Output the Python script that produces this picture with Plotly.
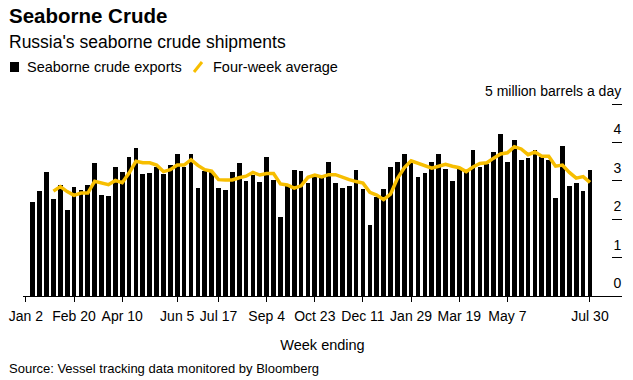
import plotly.graph_objects as go
import pandas as pd

# ---- data ----
week_ending = pd.date_range("2022-01-09", periods=82, freq="7D")

exports = [
    2.46, 2.74, 3.23, 2.52, 2.90, 2.24, 2.83, 2.76, 2.89, 3.46,
    2.63, 2.60, 3.36, 3.22, 3.62, 3.85, 3.19, 3.21, 3.37, 3.17,
    3.41, 3.69, 3.37, 3.71, 2.82, 3.25, 3.23, 2.82, 2.77, 3.24,
    3.47, 3.00, 3.16, 2.98, 3.61, 3.02, 2.05, 2.87, 3.28, 3.26,
    2.95, 3.10, 3.10, 3.50, 2.95, 2.80, 2.87, 3.29, 2.79, 1.85,
    2.59, 2.79, 3.36, 3.48, 3.71, 3.50, 3.11, 3.20, 3.50, 3.70,
    3.30, 3.00, 3.37, 3.27, 3.80, 3.35, 3.45, 3.76, 4.22, 3.50,
    4.07, 3.53, 3.60, 3.79, 3.62, 3.55, 2.55, 3.91, 2.86, 2.94,
    2.74, 3.29,
]

four_week_avg = [
    None, None, None, 2.73, 2.85, 2.72, 2.62, 2.68, 2.68, 2.99,
    2.94, 2.90, 3.01, 2.95, 3.20, 3.51, 3.47, 3.47, 3.41, 3.24,
    3.29, 3.41, 3.41, 3.55, 3.40, 3.29, 3.25, 3.03, 3.02, 3.02,
    3.08, 3.12, 3.22, 3.15, 3.19, 3.19, 2.92, 2.89, 2.81, 2.87,
    3.09, 3.15, 3.10, 3.16, 3.16, 3.09, 3.03, 2.98, 2.94, 2.70,
    2.63, 2.51, 2.65, 3.06, 3.34, 3.52, 3.45, 3.38, 3.33, 3.38,
    3.43, 3.38, 3.34, 3.24, 3.36, 3.45, 3.47, 3.59, 3.70, 3.73,
    3.89, 3.83, 3.68, 3.75, 3.64, 3.64, 3.38, 3.41, 3.22, 3.07,
    3.11, 2.96,
]

x_tick_dates = ["2022-01-02", "2022-02-20", "2022-04-10", "2022-06-05",
                "2022-07-17", "2022-09-04", "2022-10-23", "2022-12-11",
                "2023-01-29", "2023-03-19", "2023-05-07", "2023-07-30"]
x_tick_labels = ["Jan 2", "Feb 20", "Apr 10", "Jun 5", "Jul 17", "Sep 4",
                 "Oct 23", "Dec 11", "Jan 29", "Mar 19", "May 7", "Jul 30"]

y_tick_vals = [0, 1, 2, 3, 4, 5]
y_tick_labels = ["0", "1", "2", "3", "4", "5 million barrels a day"]

series_names = ["Seaborne crude exports", "Four-week average"]

# ---- layout helpers ----
W, H = 633, 380
L, R, T, B = 23, 622, 104, 296
FONT = "Liberation Sans, Arial, Helvetica, sans-serif"
YELLOW = "#F7BE00"
DAY_MS = 86400000


def px(xp):
    return (xp - L) / (R - L)


def py(yp):
    return (B - yp) / (B - T)


fig = go.Figure()
fig.add_trace(go.Bar(
    x=week_ending, y=exports, name=series_names[0],
    marker=dict(color="#000000", line=dict(width=0)),
    width=4.8 * DAY_MS, showlegend=False,
))
fig.add_trace(go.Scatter(
    x=week_ending, y=four_week_avg, name=series_names[1], mode="lines",
    line=dict(color=YELLOW, width=3.5), showlegend=False,
))

fig.update_layout(
    width=W, height=H,
    margin=dict(l=L, r=W - R, t=T, b=H - B, pad=0, autoexpand=False),
    paper_bgcolor="white", plot_bgcolor="white",
    font=dict(family=FONT, color="#000", size=14),
    bargap=0,
    xaxis=dict(
        type="date", automargin=False,
        range=["2021-12-30 01:00", "2023-08-31 14:00"],
        tickvals=x_tick_dates, ticktext=x_tick_labels,
        ticks="outside", ticklen=5, tickwidth=1, tickcolor="#000",
        ticklabelstandoff=2,
        showline=True, linecolor="#000", linewidth=1,
        showgrid=False, zeroline=False,
        tickfont=dict(size=14, color="#000"),
        title=dict(text="Week ending", font=dict(size=14.5, color="#000"), standoff=17),
    ),
    yaxis=dict(
        range=[0, 5], side="left", anchor="free", position=1, automargin=False,
        tickvals=y_tick_vals, ticktext=y_tick_labels,
        ticks="outside", ticklen=10, tickwidth=1, tickcolor="#000",
        ticklabelposition="outside", ticklabelshift=-13, ticklabelstandoff=-12,
        showgrid=False, zeroline=False, showline=False,
        tickfont=dict(size=14, color="#000"),
    ),
)

annotations = [
    dict(text="<b>Seaborne Crude</b>", x=px(7), y=py(15.5), font=dict(size=20.5)),
    dict(text="Russia's seaborne crude shipments", x=px(7), y=py(41.7), font=dict(size=17.5)),
    dict(text=series_names[0], x=px(25), y=py(67), font=dict(size=14.5)),
    dict(text=series_names[1], x=px(211), y=py(67), font=dict(size=14.5)),
    dict(text="Source: Vessel tracking data monitored by Bloomberg", x=px(7), y=py(368.7),
         font=dict(size=13)),
]
for a in annotations:
    a.update(xref="paper", yref="paper", xanchor="left", yanchor="middle",
             showarrow=False)
    a["font"].update(family=FONT, color="#000")
fig.update_layout(annotations=annotations)

fig.update_layout(shapes=[
    dict(type="rect", xref="paper", yref="paper",
         x0=px(10), x1=px(19), y0=py(72), y1=py(62),
         fillcolor="#000", line=dict(width=0)),
    dict(type="line", xref="paper", yref="paper",
         x0=px(194), x1=px(202), y0=py(72), y1=py(62),
         line=dict(color=YELLOW, width=3)),
])

fig.write_html("out.html", config={"displayModeBar": False},
               post_script="document.body.style.margin='0';document.body.style.overflow='hidden';")
